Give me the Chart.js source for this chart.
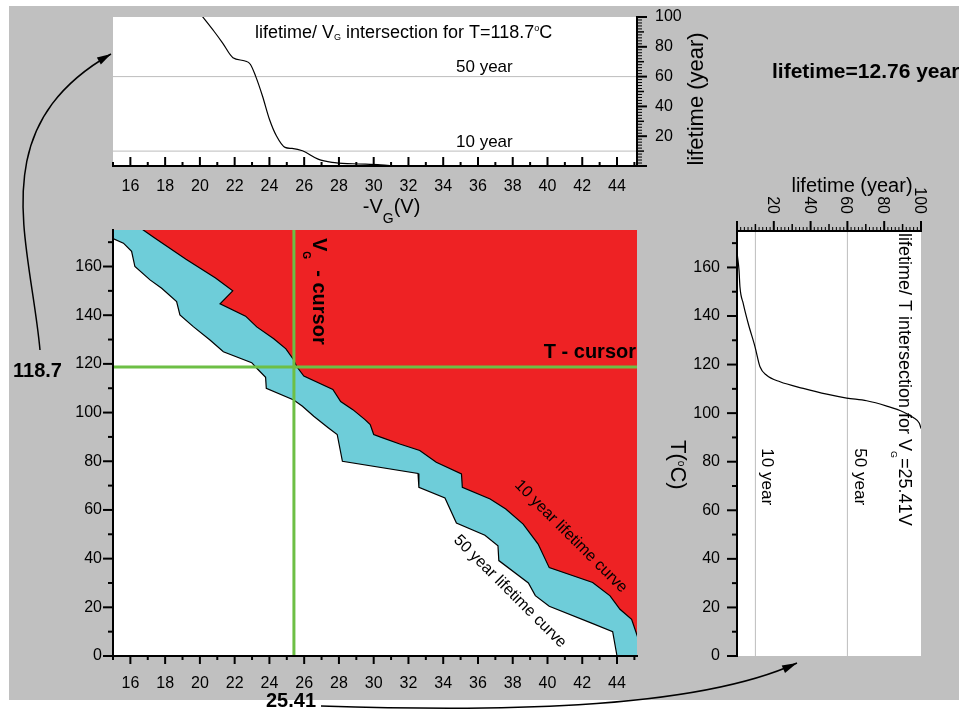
<!DOCTYPE html>
<html>
<head>
<meta charset="utf-8">
<script src="https://cdn.jsdelivr.net/npm/chart.js@4/dist/chart.umd.min.js"></script>
<style>
  body { margin: 0; background: #fff; }
  #page { position: relative; width: 959px; height: 709px; overflow: hidden; }
  #bg { position: absolute; left: 9px; top: 6px; width: 950px; height: 694px; background: #c0c0c0; }
  canvas { position: absolute; }
  .note { position: absolute; font: bold 20px "Liberation Sans", Arial, sans-serif; line-height: 20px; white-space: nowrap; color: #000; }
</style>
</head>
<body>
<div id="page">
  <div id="bg"></div>
  <canvas id="top" width="620" height="224" style="left:100px;top:6px"></canvas>
  <canvas id="main" width="620" height="491" style="left:40px;top:218px"></canvas>
  <canvas id="side" width="310" height="520" style="left:640px;top:160px"></canvas>
  <canvas id="arrows" width="959" height="709" style="left:0;top:0"></canvas>
  <div class="note" style="left:13px;top:360px">118.7</div>
  <div class="note" style="left:266px;top:690px">25.41</div>
  <div class="note" style="left:772px;top:61px;font-size:21px">lifetime=12.76 year</div>
</div>
<script>
// axis ranges
const vgMin = 15, vgMax = 45.15;
const tMax = 175;

// 10 year lifetime curve (red / cyan boundary), T against -VG
const curve10VG = [16.7, 17.4, 19.2, 20.9, 21.89, 21.16, 22.63, 23.27, 24.25, 24.95, 25.38, 25.57, 25.98, 27.65, 28.1, 28.8, 29.5, 29.8, 30.0, 30.4, 31.5, 32.65, 33.6, 35.05, 35.1, 36.7, 37.6, 38.6, 39.46, 40.1, 42.6, 43.6, 44.17, 44.84, 45.2];
const curve10T = [175.2, 171.7, 163, 155.3, 150, 144.7, 139.6, 135.2, 130.3, 126.2, 121.8, 118.9, 115, 109.5, 104.5, 101.2, 97.1, 95.1, 91, 89.9, 87.1, 84.4, 79.6, 74.8, 69.3, 64.5, 60.4, 54.2, 46, 36.3, 30.2, 24.7, 19.2, 15.1, 7.5];

// 50 year lifetime curve (cyan / white boundary)
const curve50VG = [15.0, 15.6, 16.07, 16.26, 17.13, 17.8, 18.66, 18.85, 19.62, 20.58, 21.35, 22.98, 23.3, 23.78, 23.82, 25.4, 25.9, 26.55, 27.4, 27.9, 28.2, 32.55, 32.6, 34.1, 34.76, 36.4, 37.15, 37.2, 38.9, 39.3, 40.1, 42.5, 43.75, 44.0];
const curve50T = [171.5, 169.6, 166.2, 160, 154.5, 151.1, 145.6, 140.1, 135.3, 129.8, 125, 120.5, 118, 114.5, 110, 105.2, 102.6, 98.5, 93.7, 91, 80, 75, 69.3, 64.9, 54.6, 49.6, 45.3, 39.2, 30, 24.8, 20.4, 13.6, 10, 0];

// cursors
const cursorVG = 25.41;
const cursorT = 118.7;

// lifetime against -VG at T = 118.7 C
const cutVG = [20.1, 20.8, 21.3, 21.9, 22.6, 22.9, 23.2, 23.6, 24.0, 24.4, 24.9, 25.3, 25.9, 26.8, 27.6, 28.8, 30.4, 31.2];
const cutLife = [101, 90.6, 82.7, 72.7, 70.5, 68.3, 60.5, 47, 31.4, 20.3, 12.5, 11.8, 10.2, 4.6, 2.4, 1.5, 0.8, 0];

// lifetime against T at VG = 25.41 V
const sideLife = [0.2, 1.1, 1.6, 3.4, 6.1, 9.8, 12.5, 16.1, 23.4, 36, 48.8, 59.6, 70.5, 81.4, 90.4, 95.8, 99.1, 100];
const sideT = [165, 158.8, 152, 145.1, 136.9, 127.3, 119.1, 115.6, 112.9, 110.2, 107.8, 106.2, 105.1, 102.9, 100.5, 98.2, 95.8, 93.7];

// gray reference lines (lifetime) and the rotated lifetime tick labels
const refLines = [10, 60];
const sideTicks = [20, 40, 60, 80, 100];

const FONT = '"Liberation Sans", Arial, sans-serif';
const red = '#ee2224', cyan = '#6ecdd9', green = '#6dbf45', gray = '#bdbdbd';

Chart.defaults.font.family = FONT;
Chart.defaults.font.size = 16;
Chart.defaults.color = '#000';

const xy = (xs, ys) => xs.map((x, i) => ({x: x, y: ys[i]}));
const font = (size, bold) => (bold ? 'bold ' : '') + size + 'px ' + FONT;

// text made of parts [text, size, bold, dy], drawn along one baseline
function richText(ctx, x, y, angle, parts, align, baseline) {
  ctx.save();
  ctx.translate(x, y);
  ctx.rotate(angle);
  ctx.fillStyle = '#000';
  ctx.textAlign = 'left';
  ctx.textBaseline = baseline || 'alphabetic';
  let total = 0;
  parts.forEach(p => { ctx.font = font(p[1], p[2]); total += ctx.measureText(p[0]).width; });
  let cx = align === 'center' ? -total / 2 : align === 'right' ? -total : 0;
  parts.forEach(p => {
    ctx.font = font(p[1], p[2]);
    ctx.fillText(p[0], cx, p[3] || 0);
    cx += ctx.measureText(p[0]).width;
  });
  ctx.restore();
}

// tick marks of several lengths: marks = [[step, length, width], ...] big to small
function ruler(chart, id, edge, dir, marks) {
  const s = chart.scales[id], ctx = chart.ctx;
  const step = marks[marks.length - 1][0];
  ctx.save();
  ctx.strokeStyle = '#000';
  for (let k = Math.ceil(s.min / step - 1e-6); k * step <= s.max + 1e-6; k++) {
    const v = k * step;
    const m = marks.find(m => Math.abs(v / m[0] - Math.round(v / m[0])) < 1e-6);
    const p = s.getPixelForValue(v);
    ctx.lineWidth = m[2];
    ctx.beginPath();
    if (s.isHorizontal()) { ctx.moveTo(p, edge); ctx.lineTo(p, edge + dir * m[1]); }
    else { ctx.moveTo(edge, p); ctx.lineTo(edge + dir * m[1], p); }
    ctx.stroke();
  }
  ctx.restore();
}

const whiteArea = {
  id: 'whiteArea',
  beforeDraw(chart) {
    const a = chart.chartArea, ctx = chart.ctx;
    ctx.save();
    ctx.fillStyle = '#fff';
    ctx.fillRect(a.left, a.top, a.right - a.left, a.bottom - a.top);
    ctx.restore();
  }
};

const border = {color: '#000', width: 2, z: 1};

function options(padding, scales) {
  return {
    responsive: false,
    animation: false,
    events: [],
    layout: {padding: padding},
    plugins: {legend: {display: false}, tooltip: {enabled: false}},
    elements: {point: {radius: 0}},
    scales: scales
  };
}

// ---- main map ----
const redShape = xy(curve10VG, curve10T).concat([
  {x: vgMax + 1, y: curve10T[curve10T.length - 1]},
  {x: vgMax + 1, y: tMax + 10},
  {x: curve10VG[0], y: tMax + 10}
]);
const cyanShape = xy(curve50VG, curve50T).concat([
  {x: curve50VG[curve50VG.length - 1], y: -10},
  {x: vgMax + 1, y: -10},
  {x: vgMax + 1, y: tMax + 10},
  {x: vgMin - 1, y: tMax + 10},
  {x: vgMin - 1, y: curve50T[0]}
]);

const mainDecor = {
  id: 'mainDecor',
  afterDraw(chart) {
    const a = chart.chartArea, ctx = chart.ctx, sx = chart.scales.x, sy = chart.scales.y;
    ruler(chart, 'x', a.bottom, 1, [[2, 8, 2], [1, 4, 2]]);
    ruler(chart, 'y', a.left, -1, [[20, 10, 2], [10, 5, 2]]);
    richText(ctx, sx.getPixelForValue(cursorVG) + 19, a.top + 8, Math.PI / 2,
      [['V', 20, true], ['G', 10, true, 10], ['  - cursor', 20, true]]);
    richText(ctx, a.right - 1, sy.getPixelForValue(cursorT) - 9, 0, [['T - cursor', 20, true]], 'right');
    richText(ctx, sx.getPixelForValue(41.34), sy.getPixelForValue(49.1), Math.PI / 4,
      [['10 year lifetime curve', 16]], 'center', 'middle');
    richText(ctx, sx.getPixelForValue(37.84), sy.getPixelForValue(26.5), Math.PI / 4,
      [['50 year lifetime curve', 16]], 'center', 'middle');
  }
};

new Chart('main', {
  type: 'line',
  data: {
    datasets: [
      {data: [{x: cursorVG, y: 0}, {x: cursorVG, y: tMax}], borderColor: green, borderWidth: 3},
      {data: [{x: vgMin, y: cursorT}, {x: vgMax, y: cursorT}], borderColor: green, borderWidth: 3},
      {data: xy(curve10VG, curve10T), borderColor: '#000', borderWidth: 1.2},
      {data: xy(curve50VG, curve50T), borderColor: '#000', borderWidth: 1.2},
      {data: redShape, fill: 'shape', backgroundColor: red, borderWidth: 0},
      {data: cyanShape, fill: 'shape', backgroundColor: cyan, borderWidth: 0}
    ]
  },
  options: options({top: 12, right: 23, left: 0, bottom: 0}, {
    x: {
      type: 'linear', min: vgMin, max: vgMax,
      grid: {display: false, drawTicks: true, tickLength: 18},
      border: border,
      ticks: {stepSize: 2, includeBounds: false, padding: 0, maxRotation: 0, autoSkip: false},
      afterFit: s => { s.height = 53; }
    },
    y: {
      type: 'linear', min: 0, max: tMax,
      grid: {display: false, drawTicks: true, tickLength: 11},
      border: border,
      ticks: {stepSize: 20, includeBounds: false, padding: 0},
      afterFit: s => { s.width = 73; }
    }
  }),
  plugins: [whiteArea, mainDecor]
});

// ---- lifetime / VG cut (top) ----
const topDecor = {
  id: 'topDecor',
  afterDraw(chart) {
    const a = chart.chartArea, ctx = chart.ctx, sx = chart.scales.x, sy = chart.scales.y;
    ruler(chart, 'x', a.bottom, -1, [[2, 9, 2], [1, 4, 2]]);
    ruler(chart, 'y', a.right, 1, [[20, 10, 2], [10, 7, 1.5], [2, 5, 1]]);
    richText(ctx, sx.getPixelForValue(23.17), sy.getPixelForValue(86.2), 0,
      [['lifetime/ V', 18], ['G', 9, false, 2], [' intersection for T=118.7', 18], ['o', 9, false, -7], ['C', 18]]);
    richText(ctx, sx.getPixelForValue(38.0), sy.getPixelForValue(63.1), 0, [['50 year', 17]], 'right');
    richText(ctx, sx.getPixelForValue(38.0), sy.getPixelForValue(12.95), 0, [['10 year', 17]], 'right');
    richText(ctx, sx.getPixelForValue(31.03), a.bottom + 47, 0,
      [['-V', 20], ['G', 14, false, 10], ['(V)', 20]], 'center');
    richText(ctx, a.right + 66, sy.getPixelForValue(45), -Math.PI / 2, [['lifetime (year)', 22]], 'center');
  }
};

new Chart('top', {
  type: 'line',
  data: {
    datasets: [
      {data: xy(cutVG, cutLife), borderColor: '#000', borderWidth: 1.2, cubicInterpolationMode: 'monotone'}
    ].concat(refLines.map(v => ({
      data: [{x: vgMin, y: v}, {x: vgMax, y: v}], borderColor: gray, borderWidth: 1
    })))
  },
  options: options({top: 11, right: 0, left: 13, bottom: 0}, {
    x: {
      type: 'linear', min: vgMin, max: vgMax,
      grid: {display: false, drawTicks: true, tickLength: 11},
      border: border,
      ticks: {stepSize: 2, includeBounds: false, padding: 0, maxRotation: 0, autoSkip: false},
      afterFit: s => { s.height = 64; }
    },
    y: {
      type: 'linear', position: 'right', min: 0, max: 100,
      grid: {display: false, drawTicks: true, tickLength: 18},
      border: border,
      ticks: {stepSize: 20, padding: 0, callback: v => v === 0 ? '' : v},
      afterFit: s => { s.width = 83; }
    }
  }),
  plugins: [whiteArea, topDecor]
});

// ---- lifetime / T cut (right) ----
const sideDecor = {
  id: 'sideDecor',
  afterDraw(chart) {
    const a = chart.chartArea, ctx = chart.ctx, sx = chart.scales.x, sy = chart.scales.y;
    ruler(chart, 'y', a.left, -1, [[20, 10, 2], [10, 5, 2]]);
    ruler(chart, 'x', a.top, -1, [[20, 10, 2], [10, 7, 1.5], [2, 4, 1]]);
    sideTicks.forEach(v => {
      richText(ctx, sx.getPixelForValue(v) - 6, a.top - 17, Math.PI / 2, [[String(v), 16]], 'right');
    });
    richText(ctx, sx.getPixelForValue(62.5), a.top - 39, 0, [['lifetime (year)', 20]], 'center');
    richText(ctx, sx.getPixelForValue(88.0), a.top + 2, Math.PI / 2,
      [['lifetime/ T intersection for V', 18], ['G', 9, false, 8], ['=25.41V', 18]]);
    richText(ctx, sx.getPixelForValue(13.6), sy.getPixelForValue(85.5), Math.PI / 2, [['10 year', 17]]);
    richText(ctx, sx.getPixelForValue(64.1), sy.getPixelForValue(85.5), Math.PI / 2, [['50 year', 17]]);
    richText(ctx, a.left - 66, sy.getPixelForValue(88.9), Math.PI / 2,
      [['T(', 22], ['o', 10, false, -7], ['C)', 22]]);
  }
};

new Chart('side', {
  type: 'line',
  data: {
    datasets: [
      {data: xy(sideLife, sideT), borderColor: '#000', borderWidth: 1.2, cubicInterpolationMode: 'monotone'}
    ].concat(refLines.map(v => ({
      data: [{x: v, y: 0}, {x: v, y: tMax}], borderColor: gray, borderWidth: 1
    })))
  },
  options: options({top: 0, right: 29, left: 0, bottom: 24}, {
    x: {
      type: 'linear', position: 'top', min: 0, max: 100,
      grid: {display: false, drawTicks: false},
      border: border,
      ticks: {display: false},
      afterFit: s => { s.height = 71; }
    },
    y: {
      type: 'linear', min: 0, max: tMax,
      grid: {display: false, drawTicks: true, tickLength: 17},
      border: border,
      ticks: {stepSize: 20, includeBounds: false, padding: 0},
      afterFit: s => { s.width = 97; }
    }
  }),
  plugins: [whiteArea, sideDecor]
});

// ---- linking arrows ----
const ov = document.getElementById('arrows').getContext('2d');
function curvedArrow(p0, c1, c2, p1, len, half) {
  ov.save();
  ov.strokeStyle = '#000';
  ov.fillStyle = '#000';
  ov.lineWidth = 1.5;
  ov.beginPath();
  ov.moveTo(p0[0], p0[1]);
  ov.bezierCurveTo(c1[0], c1[1], c2[0], c2[1], p1[0], p1[1]);
  ov.stroke();
  const ang = Math.atan2(p1[1] - c2[1], p1[0] - c2[0]);
  const bx = p1[0] - len * Math.cos(ang), by = p1[1] - len * Math.sin(ang);
  ov.beginPath();
  ov.moveTo(p1[0], p1[1]);
  ov.lineTo(bx + half * Math.sin(ang), by - half * Math.cos(ang));
  ov.lineTo(bx - half * Math.sin(ang), by + half * Math.cos(ang));
  ov.closePath();
  ov.fill();
  ov.restore();
}
curvedArrow([40, 350], [30, 240], [-18, 128], [111, 54], 14, 4);
curvedArrow([321, 706], [480, 711], [690, 712], [797, 663], 15, 4);
</script>
</body>
</html>
